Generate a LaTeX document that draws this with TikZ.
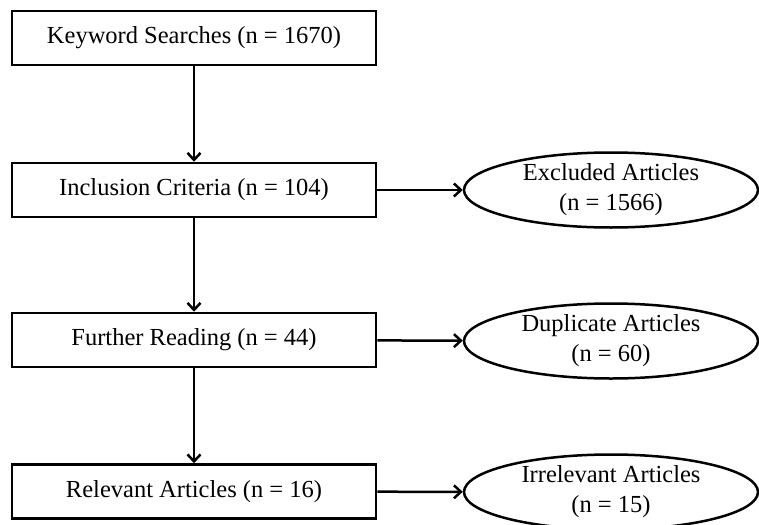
\documentclass[tikz,border=0pt]{standalone}
\usepackage{fontspec}
\setmainfont{Liberation Serif}
\usetikzlibrary{shapes.geometric,arrows.meta}
\begin{document}
\begin{tikzpicture}[x=1pt,y=-1pt,
  stepbox/.style={draw=black,line width=2.5pt,rectangle,minimum width=364pt,minimum height=54pt,inner sep=0pt,font=\fontsize{24.5}{30}\selectfont},
  outbox/.style={draw=black,line width=2.5pt,ellipse,minimum width=294pt,minimum height=75pt,inner sep=0pt,align=center,font=\fontsize{24.5}{30}\selectfont},
  arr/.style={line width=2.5pt,-{Straight Barb[length=7pt,width=13pt,line width=2.5pt]}}]
\useasboundingbox (0,0) rectangle (759,524);
\node[stepbox] (k) at (194,38) {Keyword Searches (n = 1670)};
\node[stepbox] (i) at (194,190) {Inclusion Criteria (n = 104)};
\node[stepbox] (f) at (194,340) {Further Reading (n = 44)};
\node[stepbox] (r) at (194,491.5) {Relevant Articles (n = 16)};
\node[outbox] (e) at (611,190) {Excluded Articles\\(n = 1566)};
\node[outbox] (d) at (611,341) {Duplicate Articles\\(n = 60)};
\node[outbox] (ir) at (611,492) {Irrelevant Articles\\(n = 15)};
\draw[arr] (k) -- (i);
\draw[arr] (i) -- (f);
\draw[arr] (f) -- (r);
\draw[arr] (i) -- (e);
\draw[arr] (f) -- (d);
\draw[arr] (r) -- (ir);
\end{tikzpicture}
\end{document}
